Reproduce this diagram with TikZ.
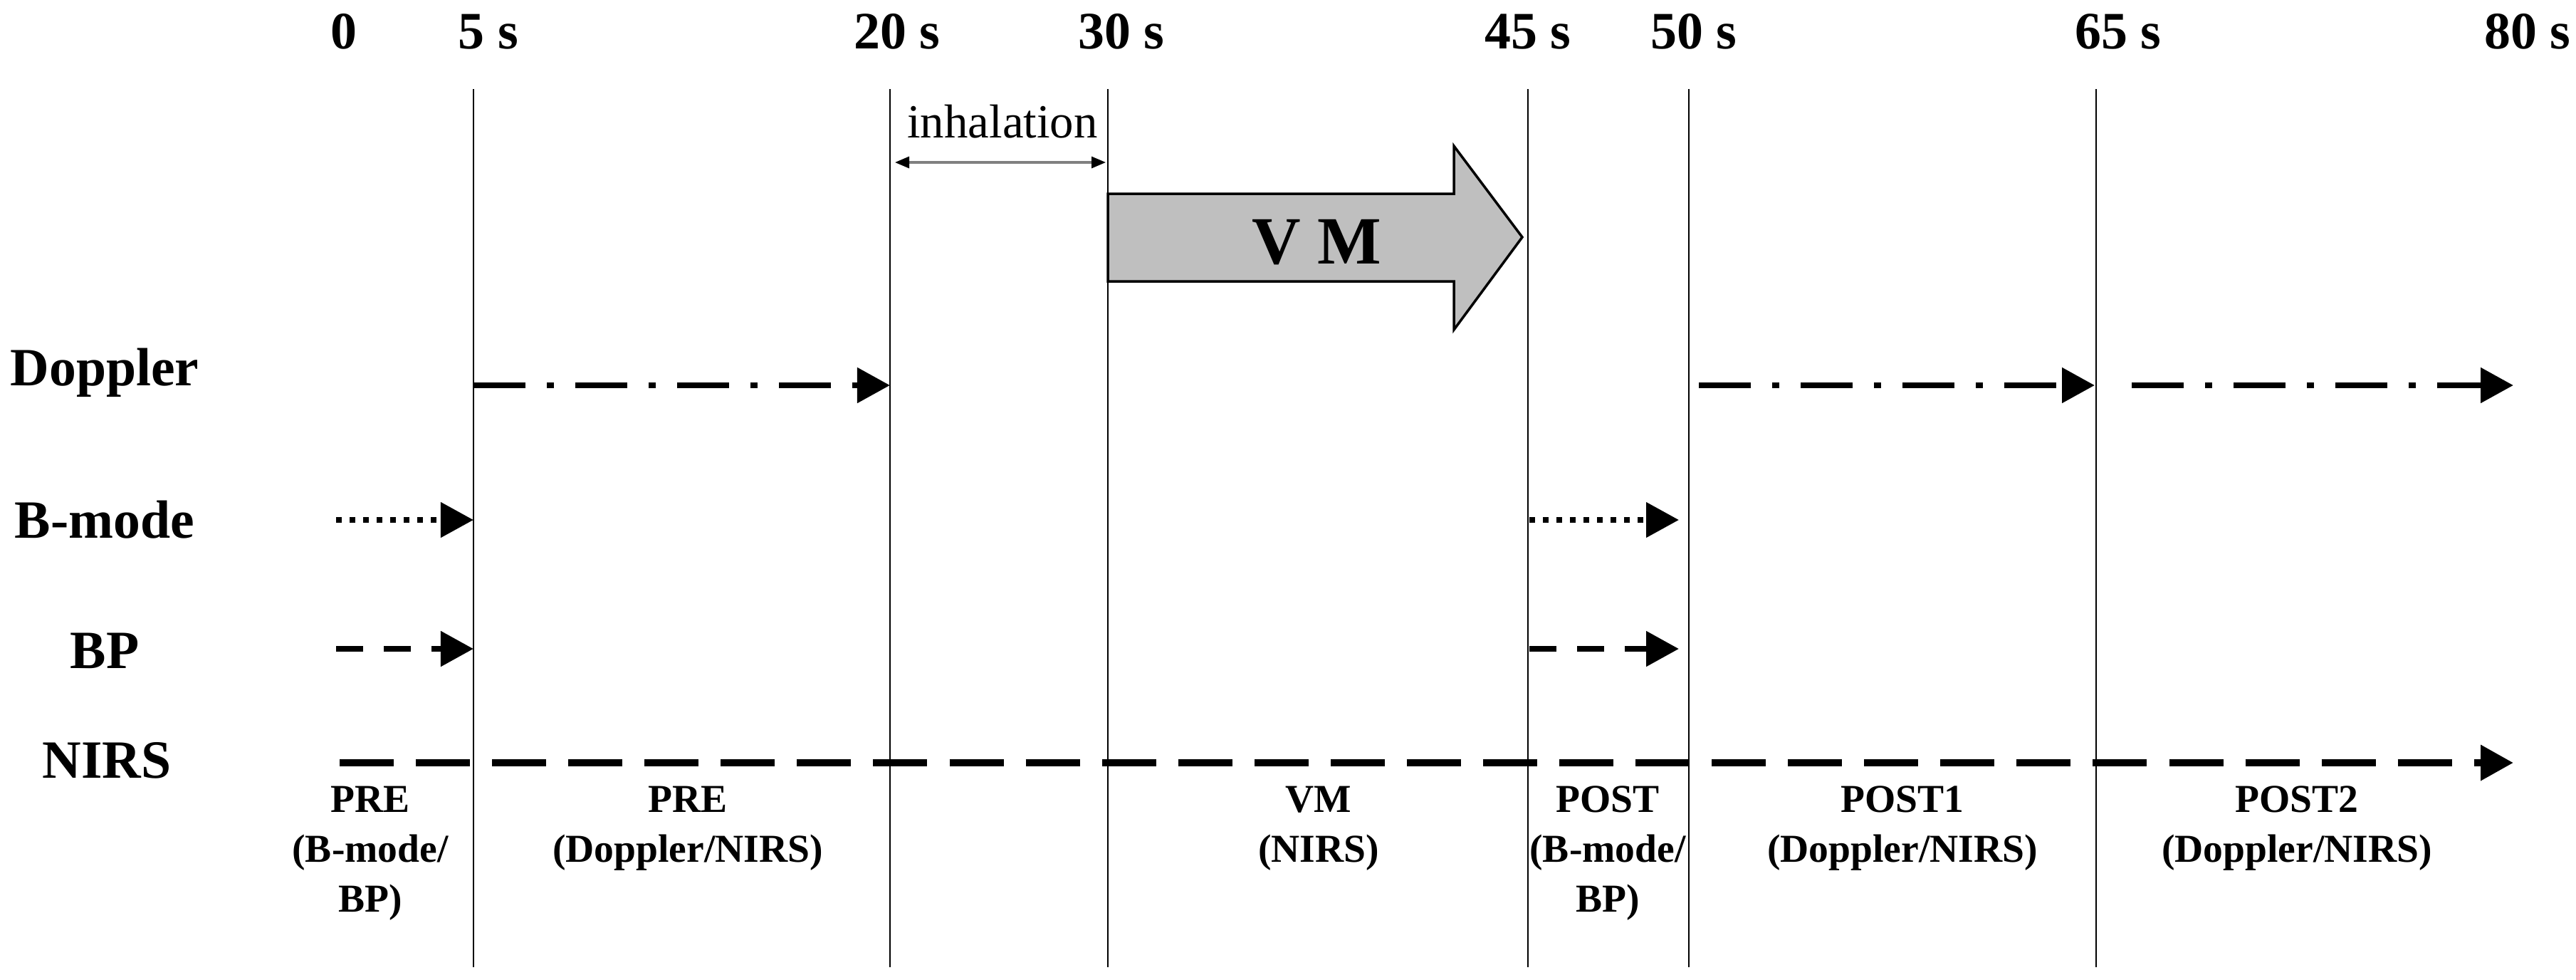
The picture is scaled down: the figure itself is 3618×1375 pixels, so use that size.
\documentclass[tikz,border=0pt]{standalone}
\usepackage{fontspec}
\setmainfont{Liberation Serif}
\usetikzlibrary{arrows.meta}
\begin{document}
\begin{tikzpicture}[x=0.01cm,y=-0.01cm,
  timelbl/.style={font=\fontsize{21pt}{24pt}\selectfont\bfseries, anchor=base, inner sep=0},
  rowlbl/.style={font=\fontsize{21.5pt}{24pt}\selectfont\bfseries, anchor=base, inner sep=0},
  phaselbl/.style={font=\fontsize{15.8pt}{19.9pt}\selectfont\bfseries, anchor=north, inner sep=0, align=center},
  vline/.style={line width=0.7pt, black},
  headtip/.style={-{Triangle[length=0.46cm,width=0.48cm]}},
  dopplerln/.style={headtip, line width=0.085cm, dash pattern=on 0.73cm off 0.3cm on 0.1cm off 0.3cm},
  bmodeln/.style={headtip, line width=0.08cm, dash pattern=on 0.08cm off 0.11cm},
  bpln/.style={headtip, line width=0.085cm, dash pattern=on 0.38cm off 0.29cm},
  nirsln/.style={headtip, line width=0.1cm, dash pattern=on 0.76cm off 0.31cm},
  vmshape/.style={fill=black!25, draw=black, line width=1pt, line join=miter},
  inhal/.style={draw=black!50, line width=0.9pt, {Triangle[length=0.2cm,width=0.16cm,color=black]}-{Triangle[length=0.2cm,width=0.16cm,color=black]}}
]
\useasboundingbox (0,0) rectangle (3618,1375);

% time labels
\node[timelbl] (l0)  at (483,68)  {0};
\node[timelbl] (l5)  at (686,68)  {5 s};
\node[timelbl] (l20) at (1260,68) {20 s};
\node[timelbl] (l30) at (1575,68) {30 s};
\node[timelbl] (l45) at (2146,68) {45 s};
\node[timelbl] (l50) at (2379,68) {50 s};
\node[timelbl] (l65) at (2975,68) {65 s};
\node[timelbl] (l80) at (3550,68) {80 s};

% vertical lines
\foreach \n/\x in {5/665, 20/1250, 30/1556, 45/2146, 50/2372, 65/2944}{
  \coordinate (v\n top) at (\x,125);
  \coordinate (v\n bot) at (\x,1358);
  \draw[vline] (v\n top) -- (v\n bot);
}

% inhalation
\coordinate (inA) at (1257,228);
\coordinate (inB) at (1553,228);
\draw[inhal] (inA) -- (inB);
\node[font=\fontsize{19pt}{22pt}\selectfont, anchor=base, inner sep=0] (inhtxt) at (1408,193) {inhalation};

% VM arrow
\draw[vmshape] (1556,272) -- (2042,272) -- (2042,205) -- (2138,333) -- (2042,463) -- (2042,395) -- (1556,395) -- cycle;
\node[font=\fontsize{27pt}{30pt}\selectfont\bfseries, inner sep=0] (vm) at (1849,340) {V M};

% row labels
\node[rowlbl] (doppler) at (147,541) {Doppler};
\node[rowlbl] (bmode)   at (147,755) {B-mode};
\node[rowlbl] (bp)      at (147,938) {BP};
\node[rowlbl] (nirs)    at (150,1092) {NIRS};

% Doppler
\coordinate (d1a) at (665,541);  \coordinate (d1b) at (1250,541);
\coordinate (d2a) at (2386,541); \coordinate (d2b) at (2942,541);
\coordinate (d3a) at (2994,541); \coordinate (d3b) at (3530,541);
\draw[dopplerln] (d1a) -- (d1b);
\draw[dopplerln] (d2a) -- (d2b);
\draw[dopplerln] (d3a) -- (d3b);

% B-mode
\coordinate (b1a) at (472,730);  \coordinate (b1b) at (665,730);
\coordinate (b2a) at (2148,730); \coordinate (b2b) at (2358,730);
\draw[bmodeln] (b1a) -- (b1b);
\draw[bmodeln] (b2a) -- (b2b);

% BP
\coordinate (p1a) at (472,911);  \coordinate (p1b) at (665,911);
\coordinate (p2a) at (2148,911); \coordinate (p2b) at (2358,911);
\draw[bpln] (p1a) -- (p1b);
\draw[bpln] (p2a) -- (p2b);

% NIRS
\coordinate (n1a) at (477,1071); \coordinate (n1b) at (3530,1071);
\draw[nirsln] (n1a) -- (n1b);

% phase labels
\node[phaselbl] (ph1) at (520,1103)  {PRE\\(B-mode/\\BP)};
\node[phaselbl] (ph2) at (966,1103)  {PRE\\(Doppler/NIRS)};
\node[phaselbl] (ph3) at (1852,1103) {VM\\(NIRS)};
\node[phaselbl] (ph4) at (2258,1103) {POST\\(B-mode/\\BP)};
\node[phaselbl] (ph5) at (2672,1103) {POST1\\(Doppler/NIRS)};
\node[phaselbl] (ph6) at (3226,1103) {POST2\\(Doppler/NIRS)};
\end{tikzpicture}
\end{document}
